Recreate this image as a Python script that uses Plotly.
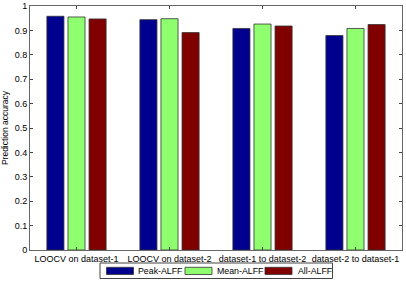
import plotly.graph_objects as go

categories = ["LOOCV on dataset-1", "LOOCV on dataset-2", "dataset-1 to dataset-2", "dataset-2 to dataset-1"]
peak_alff = [0.958, 0.944, 0.908, 0.879]
mean_alff = [0.955, 0.948, 0.926, 0.908]
all_alff = [0.947, 0.891, 0.918, 0.924]
series_names = ["Peak-ALFF", "Mean-ALFF", "All-ALFF"]
colors = ["#00008F", "#8FFF70", "#800000"]

W, H = 406, 282
ML, MR, MT, MB = 30, 4, 6, 32
PW, PH = W - ML - MR, H - MT - MB


def px_x(p):
    return (p - ML) / PW


def px_y(p):
    return (H - MB - p) / PH


x = [1, 2, 3, 4]
fig = go.Figure()
for name, vals, c in zip(series_names, [peak_alff, mean_alff, all_alff], colors):
    fig.add_trace(go.Bar(x=x, y=vals, name=name, showlegend=False, hoverinfo="skip",
                         marker=dict(color=c, line=dict(color="#333333", width=0.8))))

# legend box (drawn like the reference: wide swatches inside one framed row)
shapes = [dict(type="rect", xref="paper", yref="paper",
               x0=px_x(100), x1=px_x(332.5), y0=px_y(263), y1=px_y(278.5),
               line=dict(color="#444444", width=1), fillcolor="white", layer="above")]
annotations = []
swatch_x = [106.5, 185, 265]
text_x = [136, 214.5, 295.5]
for name, c, sx, tx in zip(series_names, colors, swatch_x, text_x):
    shapes.append(dict(type="rect", xref="paper", yref="paper",
                       x0=px_x(sx), x1=px_x(sx + 27), y0=px_y(267.3), y1=px_y(274.5),
                       line=dict(color="#333333", width=0.8), fillcolor=c, layer="above"))
    annotations.append(dict(text=name, xref="paper", yref="paper", x=px_x(tx), y=px_y(271),
                            xanchor="left", yanchor="middle", showarrow=False,
                            font=dict(size=8.8, color="black")))

fig.update_layout(
    width=W, height=H,
    margin=dict(l=ML, r=MR, t=MT, b=MB, autoexpand=False),
    plot_bgcolor="white", paper_bgcolor="white",
    font=dict(family="Liberation Sans, Arial, sans-serif", size=9, color="black"),
    barmode="group", bargap=0.32, bargroupgap=0.19,
    showlegend=False, hovermode=False,
    shapes=shapes, annotations=annotations,
)
fig.update_xaxes(range=[0.5, 4.5], tickvals=x, ticktext=categories, ticks="inside", ticklen=3,
                 showline=True, linecolor="#666666", linewidth=1, mirror="ticks", showgrid=False,
                 tickfont=dict(size=9), automargin=False)
fig.update_yaxes(range=[0, 1], tick0=0, dtick=0.1, ticks="inside", ticklen=3,
                 showline=True, linecolor="#666666", linewidth=1, mirror="ticks", showgrid=False,
                 zeroline=False, tickfont=dict(size=9), automargin=False,
                 title=dict(text="Prediction accuracy", font=dict(size=8.5), standoff=4))
fig.write_html("out.html", config={"staticPlot": True, "displayModeBar": False},
               post_script="document.body.style.margin='0';")
